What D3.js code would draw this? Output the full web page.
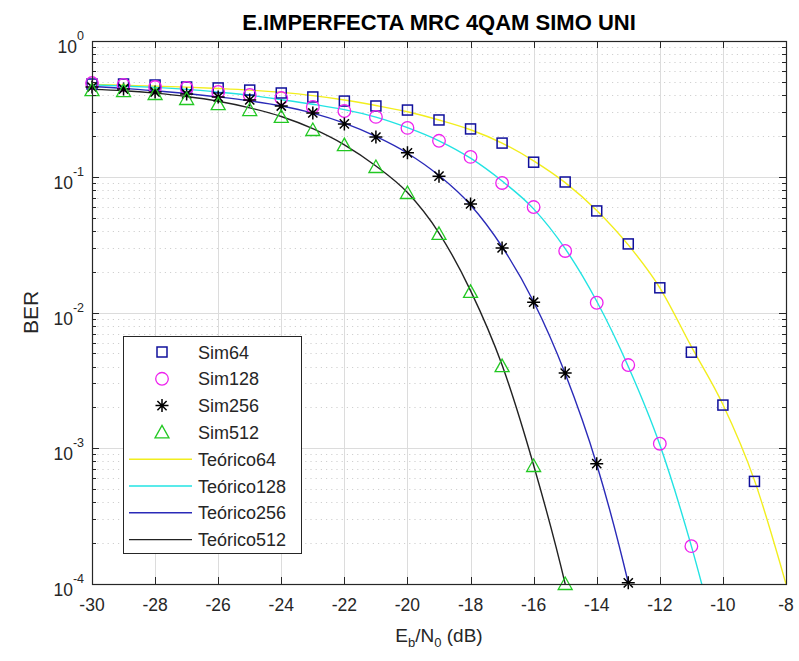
<!DOCTYPE html>
<meta charset="utf-8">
<style>
body { margin: 0; background: #fff; }
text { font-family: "Liberation Sans", Arial, sans-serif; fill: #262626; }
.grid-major { stroke: #dcdcdc; stroke-width: 1px; }
.grid-minor { stroke: #d0d0d0; stroke-width: 1px; stroke-dasharray: 1.2,4; }
.teo { fill: none; stroke-width: 1.4px; }
</style>
<body>
<script src="https://d3js.org/d3.v7.min.js"></script>
<script>

// ---- data ----
var xTicks = [-30, -28, -26, -24, -22, -20, -18, -16, -14, -12, -10, -8];
var yTicks = [1e-4, 1e-3, 1e-2, 1e-1, 1];
var yTickExp = ["-4", "-3", "-2", "-1", "0"];

var ebn0Sim64  = [-30, -29, -28, -27, -26, -25, -24, -23, -22, -21, -20, -19, -18, -17, -16, -15, -14, -13, -12, -11, -10, -9];
var sim64      = [0.482, 0.482, 0.474, 0.458, 0.451, 0.435, 0.414, 0.387, 0.361, 0.332, 0.310, 0.262, 0.225, 0.177, 0.128, 0.0915, 0.056, 0.032, 0.0152, 0.0051, 0.00208, 0.00057];

var ebn0Sim128 = [-30, -29, -28, -27, -26, -25, -24, -23, -22, -21, -20, -19, -18, -17, -16, -15, -14, -13, -12, -11];
var sim128     = [0.490, 0.474, 0.458, 0.451, 0.421, 0.400, 0.380, 0.327, 0.305, 0.276, 0.229, 0.184, 0.140, 0.090, 0.0598, 0.0284, 0.0118, 0.0041, 0.00108, 0.00019];

var ebn0Sim256 = [-30, -29, -28, -27, -26, -25, -24, -23, -22, -21, -20, -19, -18, -17, -16, -15, -14, -13];
var sim256     = [0.458, 0.443, 0.421, 0.407, 0.387, 0.368, 0.332, 0.295, 0.245, 0.196, 0.150, 0.101, 0.063, 0.0299, 0.0119, 0.00358, 0.00077, 0.000102];

var ebn0Sim512 = [-30, -29, -28, -27, -26, -25, -24, -23, -22, -21, -20, -19, -18, -17, -16, -15];
var sim512     = [0.435, 0.428, 0.407, 0.374, 0.343, 0.310, 0.276, 0.221, 0.171, 0.118, 0.0759, 0.0379, 0.0142, 0.00403, 0.00074, 0.0001];

var ebn0Teo64  = [-30, -29, -28, -27, -26, -25, -24, -23, -22, -21, -20, -19, -18, -17, -16, -15, -14, -13, -12, -11, -10, -9, -8];
var teo64      = [0.478, 0.472, 0.465, 0.457, 0.447, 0.435, 0.418, 0.396, 0.368, 0.335, 0.301, 0.262, 0.222, 0.177, 0.131, 0.0905, 0.0565, 0.0315, 0.0152, 0.0056, 0.0021, 0.00058, 0.0001];

var ebn0Teo128 = [-30, -29, -28, -27, -26, -25, -24, -23, -22, -21, -20, -19, -18, -17, -16, -15, -14, -13, -12, -11, -10];
var teo128     = [0.475, 0.466, 0.455, 0.440, 0.420, 0.398, 0.370, 0.342, 0.312, 0.275, 0.230, 0.184, 0.137, 0.093, 0.058, 0.0295, 0.0121, 0.0040, 0.00106, 0.00019, 0.000025];

var ebn0Teo256 = [-30, -29, -28, -27, -26, -25, -24, -23, -22, -21, -20, -19, -18, -17, -16, -15, -14, -13, -12];
var teo256     = [0.462, 0.448, 0.430, 0.410, 0.387, 0.362, 0.332, 0.294, 0.248, 0.198, 0.149, 0.102, 0.062, 0.0305, 0.0120, 0.00355, 0.00076, 0.000102, 0.0000085];

var ebn0Teo512 = [-30, -29, -28, -27, -26, -25, -24, -23, -22, -21, -20, -19, -18, -17, -16, -15, -14];
var teo512     = [0.440, 0.430, 0.413, 0.390, 0.360, 0.322, 0.278, 0.226, 0.172, 0.120, 0.0765, 0.0385, 0.0145, 0.0041, 0.00075, 0.0001, 0.000008];

var simNames = ["Sim64", "Sim128", "Sim256", "Sim512"];
var teoNames = ["Teórico64", "Teórico128", "Teórico256", "Teórico512"];

// ---- layout ----
var W = 799, H = 661;
var margin = {top: 41, right: 13, bottom: 77, left: 92};
var width = W - margin.left - margin.right,
    height = H - margin.top - margin.bottom;

var svg = d3.select("body").append("svg")
    .attr("width", W)
    .attr("height", H)
    .style("display", "block");

var x = d3.scaleLinear().domain([-30, -8]).range([0, width]);
var y = d3.scaleLog().domain([1e-4, 1]).range([height, 0]);

var g = svg.append("g")
    .attr("transform", "translate(" + margin.left + "," + margin.top + ")");

var minorY = y.ticks().filter(function(d) {
    return yTicks.indexOf(d) < 0;
});

// grid
g.selectAll(".grid-minor")
    .data(minorY)
    .enter().append("line")
    .attr("class", "grid-minor")
    .attr("x1", 0).attr("x2", width)
    .attr("y1", function(d) { return Math.round(y(d)) + 0.5; })
    .attr("y2", function(d) { return Math.round(y(d)) + 0.5; });

g.selectAll(".grid-y")
    .data(yTicks)
    .enter().append("line")
    .attr("class", "grid-major")
    .attr("x1", 0).attr("x2", width)
    .attr("y1", function(d) { return Math.round(y(d)) + 0.5; })
    .attr("y2", function(d) { return Math.round(y(d)) + 0.5; });

g.selectAll(".grid-x")
    .data(xTicks)
    .enter().append("line")
    .attr("class", "grid-major")
    .attr("y1", 0).attr("y2", height)
    .attr("x1", function(d) { return Math.round(x(d)) + 0.5; })
    .attr("x2", function(d) { return Math.round(x(d)) + 0.5; });

// clip for theory lines
svg.append("defs").append("clipPath")
    .attr("id", "clip")
    .append("rect")
    .attr("x", 0).attr("y", 0)
    .attr("width", width).attr("height", height);

var line = d3.line()
    .x(function(d) { return x(d[0]); })
    .y(function(d) { return y(d[1]); })
    .curve(d3.curveMonotoneX);

var teoColors = ["#f2ee1e", "#22e3e3", "#2a2ab8", "#222222"];
var teoData = [
    d3.zip(ebn0Teo64, teo64),
    d3.zip(ebn0Teo128, teo128),
    d3.zip(ebn0Teo256, teo256),
    d3.zip(ebn0Teo512, teo512)
];

var lines = g.append("g").attr("clip-path", "url(#clip)");
lines.selectAll(".teo")
    .data(teoData)
    .enter().append("path")
    .attr("class", "teo")
    .style("stroke", function(d, i) { return teoColors[i]; })
    .attr("d", line);

// markers
var simColors = ["#10109c", "#ee22ee", "#000000", "#22c822"];

function drawMarker(sel, kind, color) {
    if (kind === 0) {
        sel.append("rect")
            .attr("x", -5).attr("y", -5)
            .attr("width", 10).attr("height", 10)
            .attr("fill", "none").attr("stroke", color).attr("stroke-width", 1.5);
    } else if (kind === 1) {
        sel.append("circle")
            .attr("r", 6.3)
            .attr("fill", "none").attr("stroke", color).attr("stroke-width", 1.3);
    } else if (kind === 2) {
        sel.append("path")
            .attr("d", "M-6.5,0H6.5M0,-6.5V6.5M-4.6,-4.6L4.6,4.6M-4.6,4.6L4.6,-4.6")
            .attr("fill", "none").attr("stroke", color).attr("stroke-width", 1.5);
    } else {
        sel.append("path")
            .attr("d", "M0,-7L7,5.5H-7Z")
            .attr("fill", "none").attr("stroke", color).attr("stroke-width", 1.3);
    }
}

var simData = [
    d3.zip(ebn0Sim64, sim64),
    d3.zip(ebn0Sim128, sim128),
    d3.zip(ebn0Sim256, sim256),
    d3.zip(ebn0Sim512, sim512)
];

simData.forEach(function(series, k) {
    g.append("g").selectAll(".m" + k)
        .data(series)
        .enter().append("g")
        .attr("transform", function(d) { return "translate(" + x(d[0]) + "," + y(d[1]) + ")"; })
        .each(function() { drawMarker(d3.select(this), k, simColors[k]); });
});

// axes box and ticks
var axisColor = "#262626";
g.append("rect")
    .attr("x", 0.5).attr("y", 0.5)
    .attr("width", width).attr("height", height)
    .attr("fill", "none").attr("stroke", axisColor).attr("stroke-width", 1.2);

g.selectAll(".xt")
    .data(xTicks)
    .enter().append("path")
    .attr("stroke", axisColor)
    .attr("d", function(d) {
        var px = Math.round(x(d)) + 0.5;
        return "M" + px + "," + height + "v-7M" + px + ",0v7";
    });

g.selectAll(".yt")
    .data(yTicks)
    .enter().append("path")
    .attr("stroke", axisColor)
    .attr("d", function(d) {
        var py = Math.round(y(d)) + 0.5;
        return "M0," + py + "h7M" + width + "," + py + "h-7";
    });

g.selectAll(".ymt")
    .data(minorY)
    .enter().append("path")
    .attr("stroke", axisColor)
    .attr("d", function(d) {
        var py = Math.round(y(d)) + 0.5;
        return "M0," + py + "h4M" + width + "," + py + "h-4";
    });

// tick labels
g.selectAll(".xl")
    .data(xTicks)
    .enter().append("text")
    .attr("x", function(d) { return x(d); })
    .attr("y", height + 27)
    .attr("text-anchor", "middle")
    .style("font-size", "17.5px")
    .text(function(d) { return d; });

var yl = g.selectAll(".yl")
    .data(yTicks)
    .enter().append("text")
    .attr("x", -8)
    .attr("y", function(d) { return y(d) + 12; })
    .attr("text-anchor", "end")
    .style("font-size", "17.5px");
yl.append("tspan").text("10");
yl.append("tspan")
    .attr("dy", -13)
    .style("font-size", "12.5px")
    .text(function(d, i) { return yTickExp[i]; });

// title and axis labels
svg.append("text")
    .attr("x", margin.left + width / 2)
    .attr("y", 30)
    .attr("text-anchor", "middle")
    .style("font-size", "22px")
    .style("font-weight", "bold")
    .style("fill", "#000")
    .text("E.IMPERFECTA MRC 4QAM SIMO UNI");

var xlab = svg.append("text")
    .attr("x", margin.left + width / 2)
    .attr("y", 642)
    .attr("text-anchor", "middle")
    .style("font-size", "19px");
xlab.append("tspan").text("E");
xlab.append("tspan").attr("dy", 5).style("font-size", "13px").text("b");
xlab.append("tspan").attr("dy", -5).text("/N");
xlab.append("tspan").attr("dy", 5).style("font-size", "13px").text("0");
xlab.append("tspan").attr("dy", -5).text(" (dB)");

svg.append("text")
    .attr("transform", "translate(38," + (margin.top + height / 2) + ") rotate(-90)")
    .attr("text-anchor", "middle")
    .style("font-size", "21px")
    .text("BER");

// legend
var legX = 123, legY = 336, legW = 178, rowH = 26.8;
var leg = svg.append("g");
leg.append("rect")
    .attr("x", legX + 0.5).attr("y", legY + 0.5)
    .attr("width", legW).attr("height", 217)
    .attr("fill", "#fff").attr("stroke", axisColor).attr("stroke-width", 1);

simNames.forEach(function(name, i) {
    var row = leg.append("g")
        .attr("transform", "translate(" + (legX + 39) + "," + (legY + 16 + i * rowH) + ")");
    drawMarker(row, i, simColors[i]);
    leg.append("text")
        .attr("x", legX + 75)
        .attr("y", legY + 16 + i * rowH + 6.5)
        .style("font-size", "18px")
        .text(name);
});

teoNames.forEach(function(name, i) {
    var cy = legY + 16 + (i + 4) * rowH;
    leg.append("line")
        .attr("x1", legX + 6).attr("x2", legX + 69)
        .attr("y1", cy).attr("y2", cy)
        .attr("stroke", teoColors[i]).attr("stroke-width", 1.4);
    leg.append("text")
        .attr("x", legX + 75)
        .attr("y", cy + 6.5)
        .style("font-size", "18px")
        .text(name);
});

</script>
</body>
